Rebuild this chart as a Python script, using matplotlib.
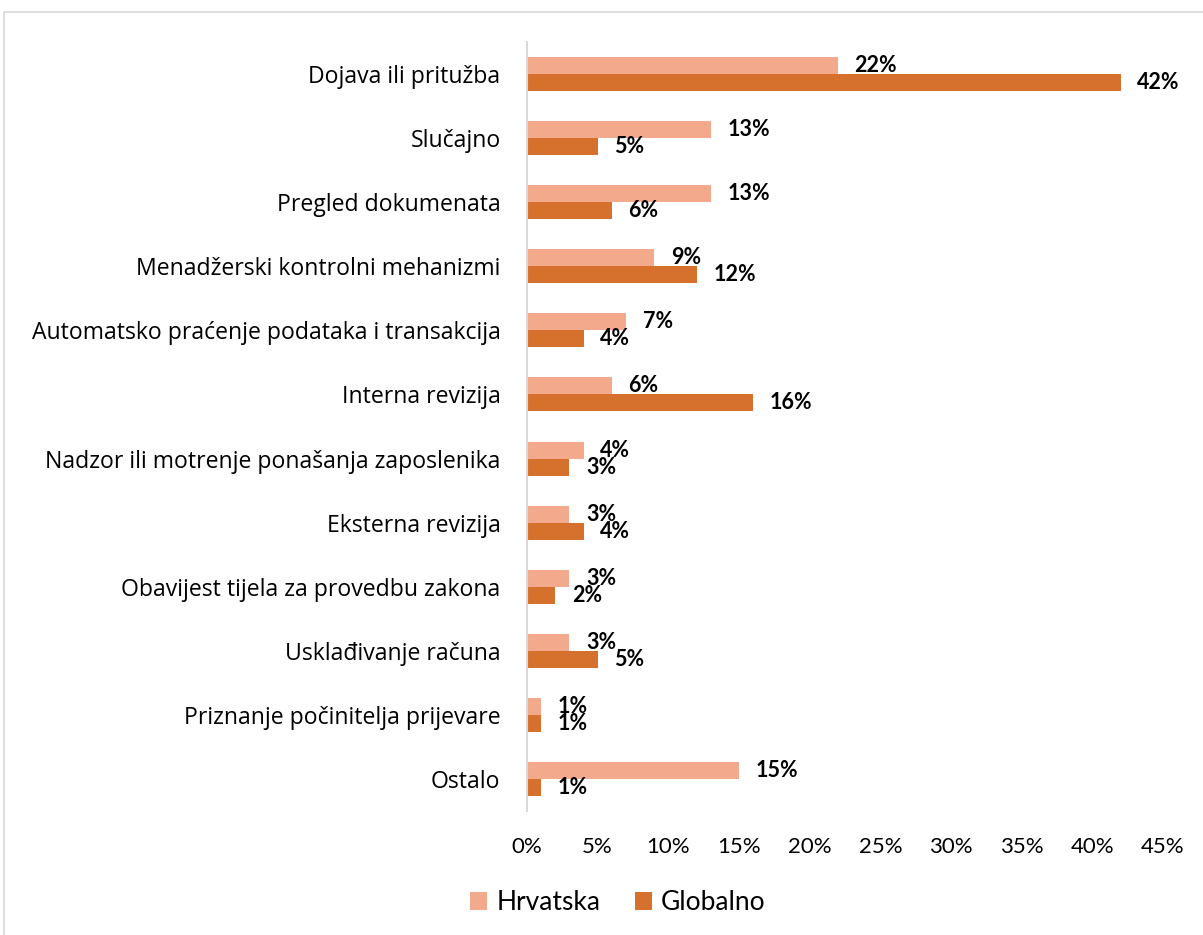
import numpy as np
import matplotlib.pyplot as plt
from matplotlib.patches import Rectangle
from matplotlib.ticker import PercentFormatter

categories = ['Dojava ili pritužba', 'Slučajno', 'Pregled dokumenata',
              'Menadžerski kontrolni mehanizmi',
              'Automatsko praćenje podataka i transakcija', 'Interna revizija',
              'Nadzor ili motrenje ponašanja zaposlenika', 'Eksterna revizija',
              'Obavijest tijela za provedbu zakona', 'Usklađivanje računa',
              'Priznanje počinitelja prijevare', 'Ostalo']
hrvatska = [22, 13, 13, 9, 7, 6, 4, 3, 3, 3, 1, 15]
globalno = [42, 5, 6, 12, 4, 16, 3, 4, 2, 5, 1, 1]
xticks = [0, 5, 10, 15, 20, 25, 30, 35, 40, 45]

c_hr = '#F3A98B'
c_gl = '#D5702D'

fig = plt.figure(figsize=(12.03, 9.35), dpi=100)
ax = fig.add_axes([527/1203, 1-811/935, (1163-527)/1203, (811-42)/935])

# light grey frame around the chart area
fig.patches.append(Rectangle((4/1203, -0.1), 1.2, 1.1-12/935, transform=fig.transFigure,
                             fill=False, edgecolor='#d9d9d9', linewidth=1.2))

y = np.arange(len(categories))
h = 0.265
b1 = ax.barh(y - h/2, hrvatska, height=h, color=c_hr, label='Hrvatska')
b2 = ax.barh(y + h/2, globalno, height=h, color=c_gl, label='Globalno')

for bars in (b1, b2):
    ax.bar_label(bars, labels=[f'{int(v)}%' for v in bars.datavalues], padding=12,
                 fontsize=15.5, fontweight='bold', family='Lato')

ax.set_ylim(len(categories) - 0.5, -0.5)
ax.set_xlim(0, 45)
ax.set_yticks(y)
ax.set_yticklabels(categories, family='Open Sans', fontsize=16.6)
ax.set_xticks(xticks)
ax.xaxis.set_major_formatter(PercentFormatter(decimals=0))
for t in ax.get_xticklabels():
    t.set_family('Lato')
    t.set_fontsize(16)
ax.tick_params(length=0)
ax.tick_params(axis='y', pad=19)
ax.tick_params(axis='x', pad=19)

for s in ['top', 'right', 'bottom']:
    ax.spines[s].set_visible(False)
ax.spines['left'].set_color('#d9d9d9')
ax.spines['left'].set_linewidth(1.5)

fig.legend(loc='center', bbox_to_anchor=(618/1203, 1-903/935), ncol=2, frameon=False,
           prop={'family': 'Lato', 'size': 19}, handlelength=0.65, handleheight=0.65,
           handletextpad=0.35, columnspacing=1.3)

plt.savefig('out.png', dpi=100)
